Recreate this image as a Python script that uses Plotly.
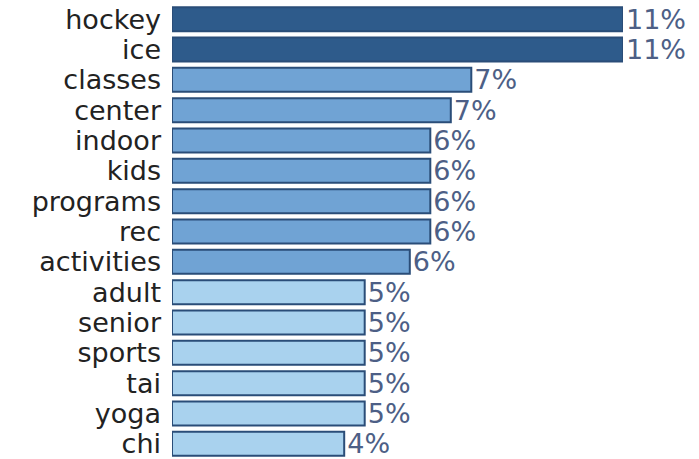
import plotly.graph_objects as go

# Word shares (fraction of all keyword mentions), top to bottom
words = ["hockey", "ice", "classes", "center", "indoor", "kids", "programs",
         "rec", "activities", "adult", "senior", "sports", "tai", "yoga", "chi"]
shares = [0.110, 0.110, 0.073, 0.068, 0.063, 0.063, 0.063,
          0.063, 0.058, 0.047, 0.047, 0.047, 0.047, 0.047, 0.042]

def shade(v):
    if v >= 0.09:
        return "#2e5b8b"
    if v >= 0.055:
        return "#70a3d4"
    return "#a9d2ee"

fig = go.Figure(go.Bar(
    x=shares,
    y=words,
    orientation="h",
    marker=dict(color=[shade(v) for v in shares],
                line=dict(color="#2a4d78", width=2)),
    texttemplate="%{x:.0%}",
    textposition="outside",
    textfont=dict(family="DejaVu Sans", size=27, color="#4d5f86"),
    cliponaxis=False,
))

fig.update_layout(
    width=699, height=459,
    margin=dict(l=172, r=76, t=4, b=0),
    paper_bgcolor="white", plot_bgcolor="white",
    bargap=0.21,
    showlegend=False,
    xaxis=dict(range=[0, 0.110], visible=False),
    yaxis=dict(autorange="reversed", showgrid=False, ticks="",
               tickmode="linear", tick0=0, dtick=1,
               ticklabelstandoff=10,
               tickfont=dict(family="DejaVu Sans", size=27, color="#222222")),
    uniformtext=dict(minsize=27, mode="show"),
)

fig.write_html("out.html")
